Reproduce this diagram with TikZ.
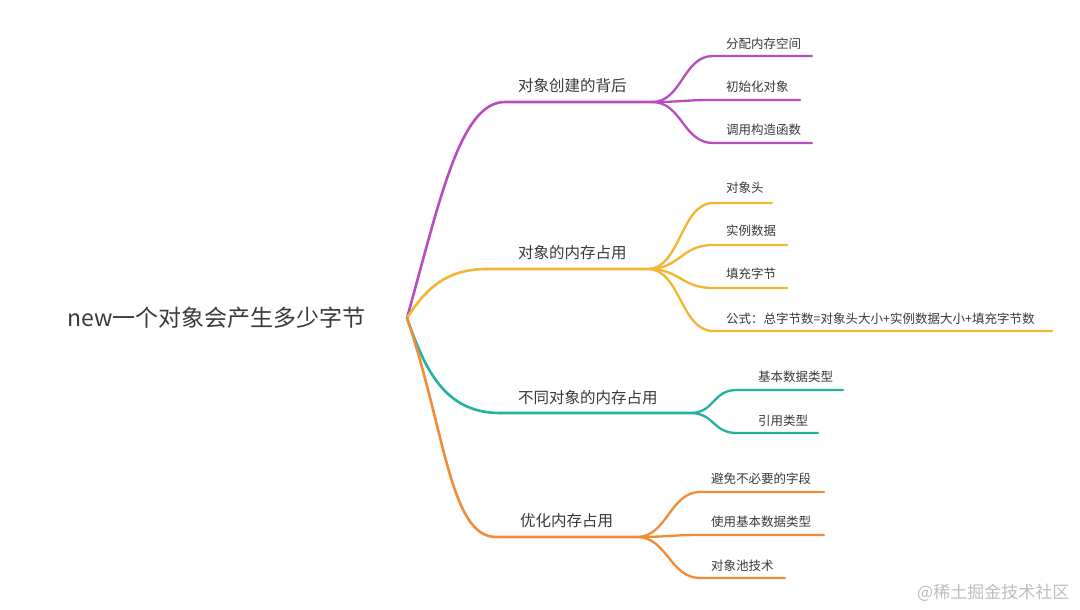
\documentclass[tikz,border=0pt]{standalone}
\usepackage{fontspec}
\setmainfont{Noto Sans CJK SC}
\definecolor{cpurple}{HTML}{B84DC0}
\definecolor{cyellow}{HTML}{F4B532}
\definecolor{cteal}{HTML}{22B3A0}
\definecolor{corange}{HTML}{F28C38}
\definecolor{ctext}{HTML}{3A3A3A}
\definecolor{cwater}{HTML}{BDBDBD}
\tikzset{
  rootlbl/.style={anchor=west,inner sep=0pt,text=ctext,font=\fontsize{23}{23}\selectfont},
  brlbl/.style={anchor=west,inner sep=0pt,text=ctext,font=\fontsize{15.5}{15.5}\selectfont},
  chlbl/.style={anchor=west,inner sep=0pt,text=ctext,font=\fontsize{12.5}{12.5}\selectfont},
  brline/.style={line width=2.6pt,line cap=round},
  chline/.style={line width=2.3pt,line cap=round},
}
\begin{document}
\begin{tikzpicture}[x=1pt,y=-1pt]
\useasboundingbox[fill=white] (0,0) rectangle (1080,610);
% root
\node[rootlbl] (root) at (67,318) {new一个对象会产生多少字节};
\coordinate (r) at (407,318);
% branch 1
\coordinate (b1s) at (505,102);
\coordinate (b1j) at (652,102);
\node[brlbl] (b1l) at (518,86) {对象创建的背后};
\draw[brline,cpurple] (r) .. controls (440,200) and (460,102) .. (b1s) -- (b1j);
\coordinate (c11s) at (713,56);  \coordinate (c11e) at (812,56);
\coordinate (c12s) at (713,100); \coordinate (c12e) at (800,100);
\coordinate (c13s) at (713,143); \coordinate (c13e) at (812,143);
\node[chlbl] (c11l) at (726,44) {分配内存空间};
\node[chlbl] (c12l) at (726,87) {初始化对象};
\node[chlbl] (c13l) at (726,130) {调用构造函数};
\foreach \c in {c11,c12,c13}
  \draw[chline,cpurple] (b1j) .. controls +(30,0) and +(-30,0) .. (\c s) -- (\c e);
% branch 2
\coordinate (b2s) at (487,269);
\coordinate (b2j) at (648,269);
\node[brlbl] (b2l) at (518,253) {对象的内存占用};
\draw[brline,cyellow] (r) .. controls (425,290) and (445,269) .. (b2s) -- (b2j);
\coordinate (c21s) at (713,203); \coordinate (c21e) at (772,203);
\coordinate (c22s) at (713,245); \coordinate (c22e) at (787,245);
\coordinate (c23s) at (713,288); \coordinate (c23e) at (787,288);
\coordinate (c24s) at (713,331); \coordinate (c24e) at (1052,331);
\node[chlbl] (c21l) at (726,188) {对象头};
\node[chlbl] (c22l) at (726,231) {实例数据};
\node[chlbl] (c23l) at (726,274) {填充字节};
\node[chlbl] (c24l) at (726,319) {公式：总字节数=对象头大小+实例数据大小+填充字节数};
\foreach \c in {c21,c22,c23,c24}
  \draw[chline,cyellow] (b2j) .. controls +(32,0) and +(-32,0) .. (\c s) -- (\c e);
% branch 3
\coordinate (b3s) at (500,413);
\coordinate (b3j) at (690,413);
\node[brlbl] (b3l) at (518,398) {不同对象的内存占用};
\draw[brline,cteal] (r) .. controls (425,370) and (445,413) .. (b3s) -- (b3j);
\coordinate (c31s) at (737,390); \coordinate (c31e) at (843,390);
\coordinate (c32s) at (737,433); \coordinate (c32e) at (818,433);
\node[chlbl] (c31l) at (758,377) {基本数据类型};
\node[chlbl] (c32l) at (758,421) {引用类型};
\foreach \c in {c31,c32}
  \draw[chline,cteal] (b3j) .. controls +(25,0) and +(-25,0) .. (\c s) -- (\c e);
% branch 4
\coordinate (b4s) at (496,537);
\coordinate (b4j) at (637,537);
\node[brlbl] (b4l) at (520,521) {优化内存占用};
\draw[brline,corange] (r) .. controls (445,430) and (450,537) .. (b4s) -- (b4j);
\coordinate (c41s) at (700,492); \coordinate (c41e) at (824,492);
\coordinate (c42s) at (700,535); \coordinate (c42e) at (824,535);
\coordinate (c43s) at (700,578); \coordinate (c43e) at (785,578);
\node[chlbl] (c41l) at (711,479) {避免不必要的字段};
\node[chlbl] (c42l) at (711,522) {使用基本数据类型};
\node[chlbl] (c43l) at (711,566) {对象池技术};
\foreach \c in {c41,c42,c43}
  \draw[chline,corange] (b4j) .. controls +(30,0) and +(-30,0) .. (\c s) -- (\c e);
% watermark
\node[anchor=west,inner sep=0pt,text=cwater,font=\fontsize{17}{17}\selectfont] (wm) at (917,593) {@稀土掘金技术社区};
\end{tikzpicture}
\end{document}
